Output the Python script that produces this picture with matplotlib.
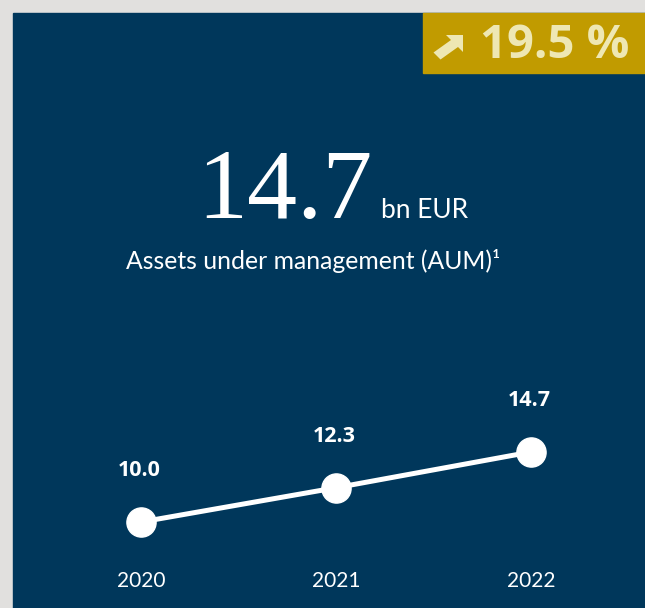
import matplotlib.pyplot as plt
from matplotlib.patches import Rectangle, Polygon

# data
years = ["2020", "2021", "2022"]
aum = [10.0, 12.3, 14.7]
value_labels = ["10.0", "12.3", "14.7"]
headline = "14.7"
growth = "19.5 %"

# colours
GREY = "#e1e0de"
NAVY = "#00375b"
GOLD = "#c19b00"
PALE = "#eee7b3"

W, H = 645, 608
fig = plt.figure(figsize=(W / 100, H / 100), dpi=100)
fig.patch.set_facecolor(GREY)

# background canvas in pixel coords
bg = fig.add_axes([0, 0, 1, 1])
bg.set_xlim(0, W)
bg.set_ylim(H, 0)
bg.axis("off")
bg.add_patch(Rectangle((13, 13), W - 13, H - 13, color=NAVY, zorder=0))

# growth badge
bg.add_patch(Rectangle((423, 13), W - 423, 60, color=GOLD, zorder=1))
arrow = [(446, 35), (463, 35), (463, 52), (458, 47), (440.5, 59.5),
         (433.5, 52.5), (451, 40)]
bg.add_patch(Polygon(arrow, closed=True, color=PALE, lw=0, zorder=2))
bg.text(629, 45, growth, color=PALE, fontsize=34, fontweight="bold",
        family="Open Sans", ha="right", va="center", zorder=2)

# headline figure
bg.text(373, 218, headline, color="white", fontsize=72, family="Liberation Serif",
        ha="right", va="baseline")
bg.text(381, 218, "bn EUR", color="white", fontsize=19, family="Lato",
        ha="left", va="baseline")
bg.text(313, 261, "Assets under management (AUM)¹", color="white", fontsize=17.8,
        family="Lato", ha="center", va="center")

# line chart
x0, x1 = 14, W          # pixel extent of chart axes
y_top, y_bot = 400, 560
ax = fig.add_axes([x0 / W, 1 - y_bot / H, (x1 - x0) / W, (y_bot - y_top) / H])
ax.set_facecolor("none")
xs = list(range(len(years)))
ax.plot(xs, aum, color="white", lw=3.6, marker="o", markersize=21, zorder=3)
ax.set_xlim((x0 - 141) / 195, (x1 - 141) / 195)
ax.set_ylim(10 - (y_bot - 522) / 14.9, 14.7 + (452 - y_top) / 14.9)

for x, v, lab in zip(xs, aum, value_labels):
    ax.annotate(lab, (x, v), xytext=(-1, 37), textcoords="offset points",
                ha="center", va="center", color="white", fontsize=15.5,
                fontweight="bold", family="Open Sans")

ax.set_xticks(xs)
ax.set_xticklabels(years, color="white", fontsize=15, family="Lato")
ax.tick_params(axis="x", length=0, pad=8)
ax.set_yticks([])
for s in ax.spines.values():
    s.set_visible(False)

fig.savefig("out.png", dpi=100, facecolor=GREY)
